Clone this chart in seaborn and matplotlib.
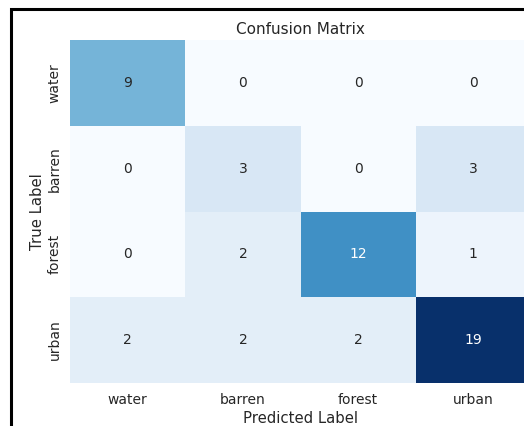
import numpy as np
import pandas as pd
import seaborn as sns
import matplotlib.pyplot as plt
from matplotlib.patches import Rectangle

# Confusion matrix data
classes = ['water', 'barren', 'forest', 'urban']
row_water = [9, 0, 0, 0]
row_barren = [0, 3, 0, 3]
row_forest = [0, 2, 12, 1]
row_urban = [2, 2, 2, 19]

cm = pd.DataFrame([row_water, row_barren, row_forest, row_urban],
                  index=classes, columns=classes)

sns.set_theme(style='white')

W, H = 524, 426
fig = plt.figure(figsize=(W / 100, H / 100), dpi=100)
# axes runs a little past the right edge, like the cropped reference
ax = fig.add_axes([70 / W, 1 - 383 / H, 461 / W, 343 / H])

sns.heatmap(cm, annot=True, fmt='d', cmap='Blues', cbar=False, ax=ax,
            annot_kws={'fontsize': 10})

ax.set_title('Confusion Matrix', fontsize=11, pad=4)
ax.set_xlabel('Predicted Label', fontsize=10.7, labelpad=3)
ax.set_ylabel('True Label', fontsize=10.7, labelpad=2)
ax.tick_params(axis='x', labelsize=10, pad=1)
ax.tick_params(axis='y', labelsize=10, pad=0)
ax.set_yticklabels(classes, rotation=90, va='center')

# dark frame round the figure
fig.patches.append(Rectangle((11 / W, -0.1), 1.2, 1.1 - 9.5 / H,
                             transform=fig.transFigure, fill=False,
                             edgecolor='black', linewidth=2.2))

fig.savefig('out.png', dpi=100)
